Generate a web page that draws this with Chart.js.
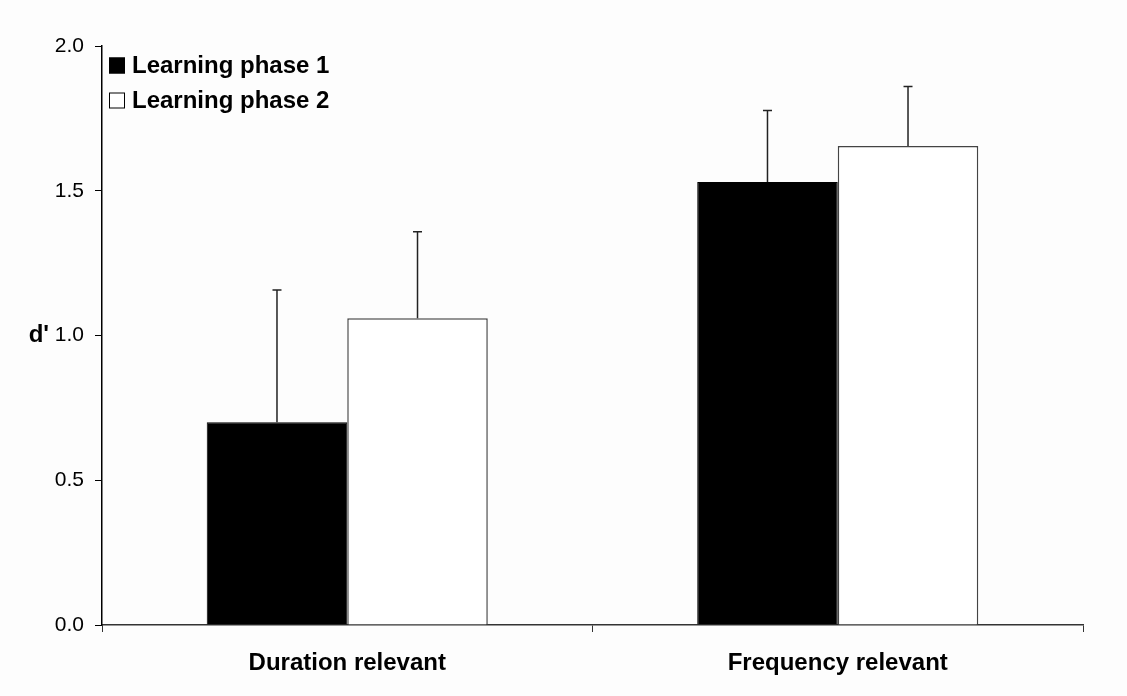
<!DOCTYPE html>
<html>
<head>
<meta charset="utf-8">
<script src="https://cdn.jsdelivr.net/npm/chart.js@4"></script>
<style>
  html, body { margin: 0; padding: 0; background: #fdfdfd; }
  #wrap { width: 1127px; height: 696px; position: relative; }
</style>
</head>
<body>
<div id="wrap"><canvas id="c"></canvas></div>
<script>
const categories = ['Duration relevant', 'Frequency relevant'];
const seriesLabels = ['Learning phase 1', 'Learning phase 2'];
const phase1 = [0.70, 1.53];
const phase2 = [1.06, 1.655];
const phase1Err = [0.457, 0.247];
const phase2Err = [0.298, 0.205];
const yMin = 0, yMax = 2.0, yStep = 0.5;
const yTitle = "d'";

const FONT = "'Liberation Sans', Arial, sans-serif";

const errorBars = {
  id: 'errorBars',
  afterDatasetsDraw(chart) {
    const ctx = chart.ctx;
    const y = chart.scales.y;
    chart.data.datasets.forEach((ds, i) => {
      const meta = chart.getDatasetMeta(i);
      meta.data.forEach((bar, j) => {
        const v = ds.data[j], e = ds.errors[j];
        const yTop = y.getPixelForValue(v + e);
        const yBase = y.getPixelForValue(v);
        ctx.save();
        ctx.strokeStyle = '#222';
        ctx.lineWidth = 1.5;
        ctx.beginPath();
        ctx.moveTo(bar.x, yBase);
        ctx.lineTo(bar.x, yTop);
        ctx.moveTo(bar.x - 4.5, yTop);
        ctx.lineTo(bar.x + 4.5, yTop);
        ctx.stroke();
        ctx.restore();
      });
    });
  }
};

const innerLegend = {
  id: 'innerLegend',
  afterDraw(chart) {
    const ctx = chart.ctx;
    const a = chart.chartArea;
    ctx.save();
    ctx.font = 'bold 24px ' + FONT;
    ctx.textBaseline = 'middle';
    ctx.textAlign = 'left';
    chart.data.datasets.forEach((ds, i) => {
      const cy = a.top + 19.5 + i * 35;
      const bx = a.left + 7;
      ctx.fillStyle = ds.backgroundColor;
      ctx.fillRect(bx, cy - 8, 16, 16);
      ctx.strokeStyle = '#000';
      ctx.lineWidth = 1;
      ctx.strokeRect(bx + 0.5, cy - 7.5, 15, 15);
      ctx.fillStyle = '#000';
      ctx.fillText(ds.label, a.left + 30, cy + 1);
    });
    ctx.restore();
  }
};

const yTitlePlugin = {
  id: 'yTitlePlugin',
  afterDraw(chart) {
    const ctx = chart.ctx;
    const y = chart.scales.y;
    ctx.save();
    ctx.font = 'bold 24px ' + FONT;
    ctx.fillStyle = '#000';
    ctx.textAlign = 'right';
    ctx.textBaseline = 'middle';
    ctx.fillText(yTitle, 49, y.getPixelForValue(1.0));
    ctx.restore();
  }
};

const bg = {
  id: 'bg',
  beforeDraw(chart) {
    const ctx = chart.ctx;
    ctx.save();
    ctx.fillStyle = '#fdfdfd';
    ctx.fillRect(0, 0, chart.width, chart.height);
    ctx.restore();
  }
};

new Chart(document.getElementById('c'), {
  type: 'bar',
  data: {
    labels: categories,
    datasets: [
      { label: seriesLabels[0], data: phase1, errors: phase1Err,
        backgroundColor: '#000000', borderColor: '#000000', borderWidth: 1 },
      { label: seriesLabels[1], data: phase2, errors: phase2Err,
        backgroundColor: '#ffffff', borderColor: '#444444', borderWidth: 1.5 }
    ]
  },
  options: {
    responsive: true,
    maintainAspectRatio: false,
    animation: false,
    devicePixelRatio: 1,
    layout: { padding: { left: 0, top: 46, right: 44, bottom: 0 } },
    datasets: { bar: { categoryPercentage: 0.573, barPercentage: 1.0 } },
    plugins: { legend: { display: false }, tooltip: { enabled: false } },
    scales: {
      x: {
        grid: { offset: true, drawOnChartArea: false, drawTicks: true, tickLength: 7, color: '#333', lineWidth: 1 },
        border: { display: true, color: '#333', width: 1.5 },
        ticks: { font: { family: FONT, size: 24, weight: 'bold' }, color: '#000', padding: 17, maxRotation: 0 },
        afterFit(scale) { scale.height = 71; }
      },
      y: {
        min: yMin, max: yMax,
        grid: { drawOnChartArea: false, drawTicks: true, tickLength: 7, color: '#000', lineWidth: 1 },
        border: { display: true, color: '#000', width: 1.5 },
        ticks: { stepSize: yStep, font: { family: FONT, size: 21 }, color: '#000', padding: 11,
                 callback: v => Number(v).toFixed(1) },
        afterFit(scale) { scale.width = 102; }
      }
    }
  },
  plugins: [bg, errorBars, innerLegend, yTitlePlugin]
});
</script>
</body>
</html>
